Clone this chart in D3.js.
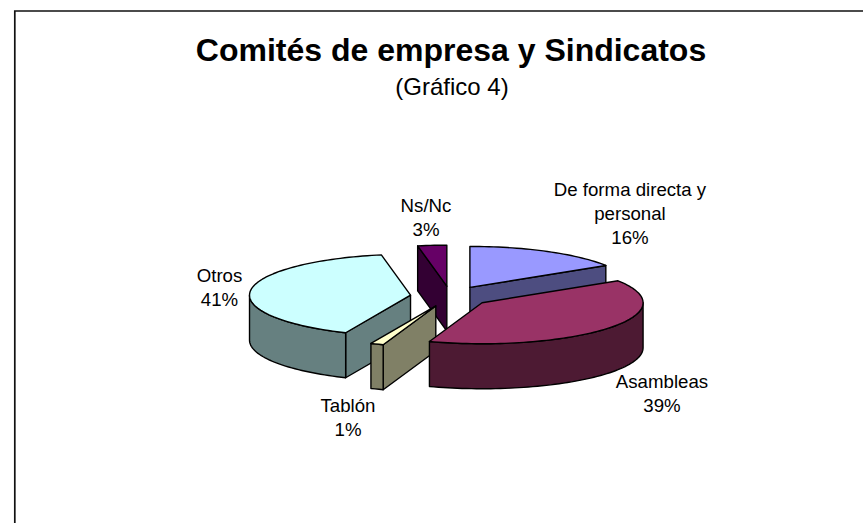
<!DOCTYPE html>
<html><head><meta charset="utf-8">
<style>html,body{margin:0;padding:0;background:#fff}svg{display:block}text{font-family:"Liberation Sans",Arial,sans-serif;fill:#000}</style>
<script src="https://cdn.jsdelivr.net/npm/d3@7/dist/d3.min.js"></script></head><body>
<script>
const titleText = "Comités de empresa y Sindicatos";
const subtitleText = "(Gráfico 4)";
const categories = ["De forma directa y personal","Asambleas","Tablón","Otros","Ns/Nc"];
const values = [16, 39.3, 1.3, 40.5, 2.9];
const faceColors = ["#9999FF","#993366","#FFFFCC","#CCFFFF","#660066"];
const labelLines = [["De forma directa y","personal"],["Asambleas"],["Tablón"],["Otros"],["Ns/Nc"]];
const labelPos = [[630,196],[662,388],[348,412],[219.5,282],[426,212]];
const drawOrder = [4,0,3,2,1];

const W=863,H=523,cx=450.5,cy=296.4,rx=161,ry=41,depth=45,explode=0.25;
const svg=d3.select("body").append("svg").attr("width",W).attr("height",H);
svg.append("path").attr("d",`M14.8,${H}V11H${W}`).attr("fill","none").attr("stroke","#111").attr("stroke-width",1.7);
svg.append("text").attr("x",451).attr("y",61).attr("text-anchor","middle").attr("font-size",32).attr("font-weight","bold").text(titleText);
svg.append("text").attr("x",452).attr("y",95).attr("text-anchor","middle").attr("font-size",24).text(subtitleText);

const pie=d3.pie().sort(null)(values);
const shade=c=>{const r=d3.rgb(c);return d3.rgb(r.r/2,r.g/2,r.b/2).formatHex();};
const line=d3.line();
const g=svg.append("g").attr("stroke","#000").attr("stroke-width",1.4).attr("stroke-linejoin","round");
const pt=(o,a,dy=0)=>[o[0]+rx*Math.sin(a),o[1]-ry*Math.cos(a)+dy];
const arcPts=(o,a,b,dy=0)=>{const n=Math.max(2,Math.ceil((b-a)/0.03));return d3.range(n+1).map(i=>pt(o,a+(b-a)*i/n,dy));};

drawOrder.forEach(i=>{
  const s=pie[i], a=s.startAngle, b=s.endAngle, mid=(a+b)/2;
  const o=[cx+explode*rx*Math.sin(mid), cy-explode*ry*Math.cos(mid)];
  const dark=shade(faceColors[i]);
  const wall=ang=>{const p=pt(o,ang);g.append("path").attr("fill",dark).attr("d",line([o,p,[p[0],p[1]+depth],[o[0],o[1]+depth]])+"Z");};
  if(Math.sin(a)<-1e-6) wall(a);
  if(Math.sin(b)>1e-6) wall(b);
  const r0=Math.max(a,Math.PI/2), r1=Math.min(b,Math.PI*1.5);
  if(r1>r0){
    g.append("path").attr("fill",dark).attr("d",line(arcPts(o,r0,r1).concat(arcPts(o,r0,r1,depth).reverse()))+"Z");
  }
  g.append("path").attr("fill",faceColors[i]).attr("d",line([o].concat(arcPts(o,a,b)))+"Z");
});

categories.forEach((c,i)=>{
  const t=svg.append("text").attr("text-anchor","middle").attr("font-size",18.67);
  const lines=labelLines[i].concat(Math.round(values[i])+"%");
  lines.forEach((l,k)=>t.append("tspan").attr("x",labelPos[i][0]).attr("y",labelPos[i][1]+k*24).text(l));
});
</script></body></html>
